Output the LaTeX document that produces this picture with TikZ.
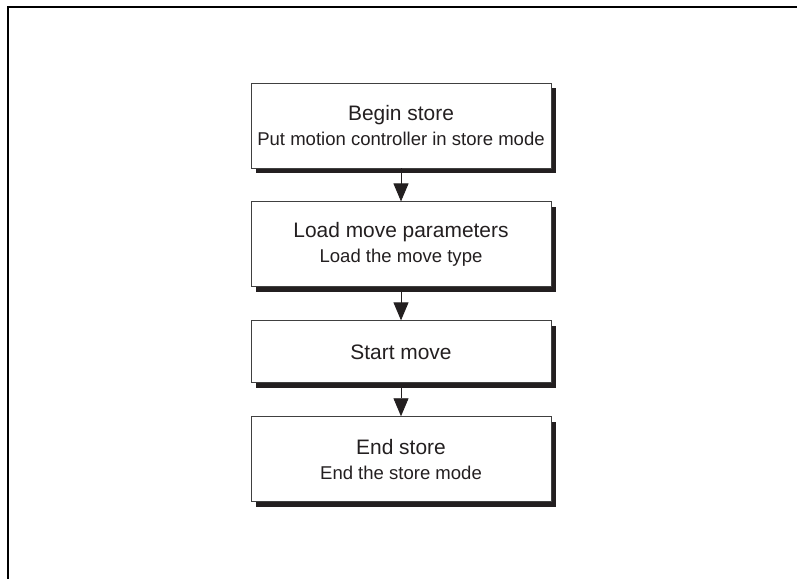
\documentclass[tikz,border=0pt]{standalone}
\usepackage{fontspec}
\setmainfont{Liberation Sans}
\usetikzlibrary{positioning,arrows.meta,shadows}

\definecolor{inkgray}{HTML}{231F20}
\newcommand{\boxtitle}[1]{{\fontsize{21}{25}\selectfont #1}}

\begin{document}
\begin{tikzpicture}[x=1bp, y=-1bp, node distance=33bp,
    every node/.style={font=\fontsize{18.6}{25}\selectfont, text=inkgray},
    stepbox/.style={draw=black!75, line width=0.9bp, fill=white,
        minimum width=300bp, minimum height=85bp, align=center,
        drop shadow={shadow xshift=5bp, shadow yshift=-5bp, fill=inkgray, opacity=1}},
    flow/.style={-{Triangle[length=18bp, width=15bp]}, line width=0.9bp, draw=inkgray}]
    \useasboundingbox (0,0) rectangle (797,579);
    % frame
    \draw[line width=2.2bp] (8,579) -- (8,7) -- (797,7);
    % steps
    \node[stepbox] (begin) at (401,125.5) {\boxtitle{Begin store}\\Put motion controller in store mode};
    \node[stepbox, below=of begin] (load) {\boxtitle{Load move parameters}\\Load the move type};
    \node[stepbox, below=of load, minimum height=62bp] (start) {\boxtitle{Start move}};
    \node[stepbox, below=of start] (end) {\boxtitle{End store}\\End the store mode};
    \draw[flow] (begin) -- (load);
    \draw[flow] (load) -- (start);
    \draw[flow] (start) -- (end);
\end{tikzpicture}
\end{document}
